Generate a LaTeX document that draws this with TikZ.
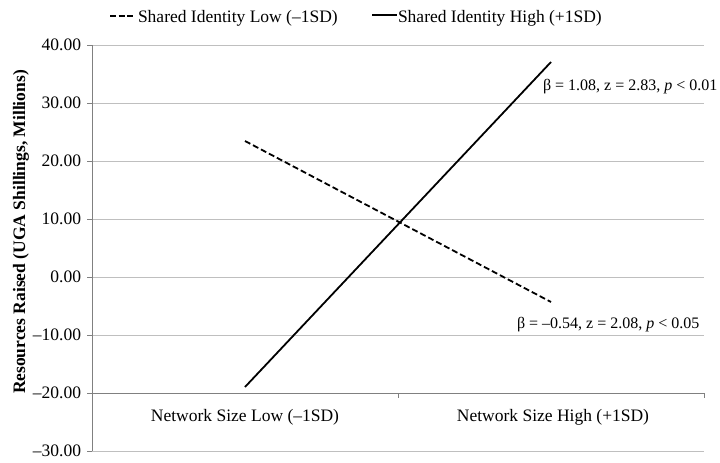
\documentclass[tikz,border=0pt]{standalone}
\usepackage{fontspec}
\setmainfont{Liberation Serif}
\begin{document}
\begin{tikzpicture}[x=1pt,y=-1pt,
  every node/.style={inner sep=0pt,outer sep=0pt,font=\fontsize{17.5}{21}\selectfont},
  grid/.style={draw=black!25,line width=0.9pt},
  axisline/.style={draw=black!50,line width=1pt},
  ticklabel/.style={anchor=base east},
  serieslow/.style={draw=black,line width=1.8pt,dash pattern=on 6pt off 3pt},
  serieshigh/.style={draw=black,line width=1.8pt},
  annot/.style={anchor=base west,font=\fontsize{16}{19}\selectfont}]
\useasboundingbox (0,0) rectangle (720,463);
% gridlines and tick labels
\foreach \v/\yy in {40/45,30/103,20/161,10/219,0/277,-10/335,-30/451}{
  \draw[grid] (92,\yy) -- (704,\yy);
}
\foreach \lab/\yy/\nm in {40.00/45/ya,30.00/103/yb,20.00/161/yc,10.00/219/yd,0.00/277/ye,–10.00/335/yf,–20.00/393/yg,–30.00/451/yh}{
  \draw[axisline] (87,\yy) -- (92,\yy);
  \node[ticklabel] (\nm) at (81,\yy+5.6) {\lab};
}
% axes
\draw[axisline] (92,45) -- (92,451);
\draw[axisline] (92,393) -- (704,393);
\draw[axisline] (398,393) -- (398,398);
\draw[axisline] (704,393) -- (704,398);
% axis title
\node[rotate=90,font=\fontsize{17.5}{21}\selectfont\bfseries] (ytitle) at (21,232) {Resources Raised (UGA Shillings, Millions)};
% category labels
\node[anchor=base] (catlow) at (245,421) {Network Size Low (–1SD)};
\node[anchor=base] (cathigh) at (553,421) {Network Size High (+1SD)};
% series
\coordinate (l1) at (245,141);
\coordinate (l2) at (551,302);
\coordinate (h1) at (245,387);
\coordinate (h2) at (551,62);
\draw[serieslow] (l1) -- (l2);
\draw[serieshigh] (h1) -- (h2);
% annotations
\node[annot] (annhigh) at (543,90) {β = 1.08, z = 2.83, \textit{p} < 0.01};
\node[annot] (annlow) at (517,328) {β = –0.54, z = 2.08, \textit{p} < 0.05};
% legend
\coordinate (lg1a) at (110,16);
\coordinate (lg1b) at (133,16);
\draw[serieslow,dash pattern=on 6pt off 2.5pt] (lg1a) -- (lg1b);
\node[anchor=base west] (leglow) at (138,22.5) {Shared Identity Low (–1SD)};
\coordinate (lg2a) at (372,15);
\coordinate (lg2b) at (397,15);
\draw[serieshigh] (lg2a) -- (lg2b);
\node[anchor=base west] (leghigh) at (398,22.5) {Shared Identity High (+1SD)};
\end{tikzpicture}
\end{document}
